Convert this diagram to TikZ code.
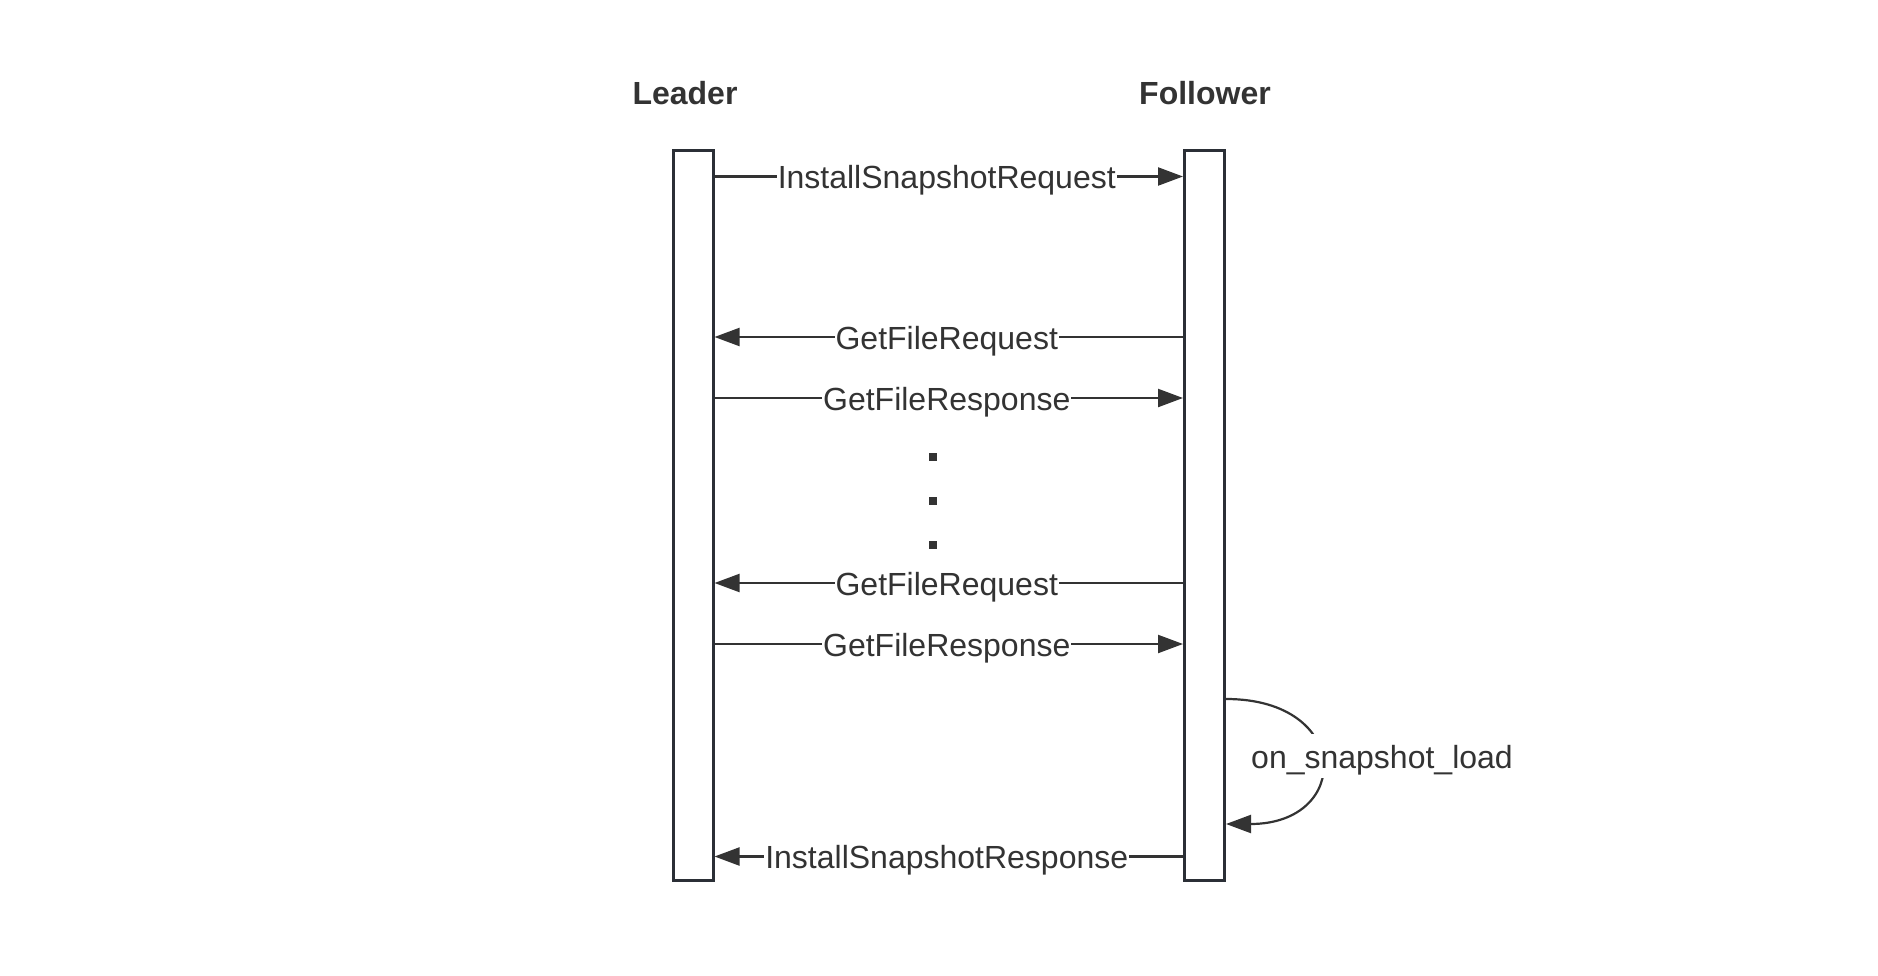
\documentclass[tikz,border=0pt]{standalone}
\usepackage{fontspec}
\setmainfont{Liberation Sans}
\usetikzlibrary{arrows.meta}
\definecolor{ink}{HTML}{333333}
\definecolor{boxline}{HTML}{2B2F36}
\tikzset{
  lifebox/.style={draw=boxline, line width=3pt, fill=white, minimum width=40pt, minimum height=729pt, inner sep=0pt},
  actor/.style={font=\fontsize{32}{38}\selectfont\bfseries, text=ink, anchor=base},
  msg/.style={draw=ink, line width=2.2pt, -{Triangle[length=25pt,width=18pt]}},
  txt/.style={fill=white, text=ink, font=\fontsize{32}{38}\selectfont, inner xsep=1pt, inner ysep=3pt, text depth=7pt},
  lbl/.style={txt, text height=31pt, xshift=-2pt},
  dotbox/.style={fill=ink, minimum size=8.5pt, inner sep=0pt}
}
\begin{document}
\begin{tikzpicture}[x=1pt,y=-1pt]
\useasboundingbox (0,0) rectangle (1878,976);
% actors
\node[actor] (tL) at (685,105) {Leader};
\node[actor] (tF) at (1205,105) {Follower};
% lifelines
\node[lifebox] (L) at (693,515.5) {};
\node[lifebox] (F) at (1204.5,515.5) {};
% row coordinates
\coordinate (r1) at (0,176.5);
\coordinate (r2) at (0,337);
\coordinate (r3) at (0,398);
\coordinate (r4) at (0,583);
\coordinate (r5) at (0,644);
\coordinate (r6) at (0,856.5);
\coordinate (s1) at (0,699);
\coordinate (s2) at (0,824);
% messages
\draw[msg] (L.east |- r1) -- node[lbl] (m1) {InstallSnapshotRequest} (F.west |- r1);
\draw[msg] (F.west |- r2) -- node[lbl] (m2) {GetFileRequest} (L.east |- r2);
\draw[msg] (L.east |- r3) -- node[lbl] (m3) {GetFileResponse} (F.west |- r3);
\draw[msg] (F.west |- r4) -- node[lbl] (m4) {GetFileRequest} (L.east |- r4);
\draw[msg] (L.east |- r5) -- node[lbl] (m5) {GetFileResponse} (F.west |- r5);
\draw[msg] (F.west |- r6) -- node[lbl] (m6) {InstallSnapshotResponse} (L.east |- r6);
% dots
\node[dotbox] (d1) at (933,457) {};
\node[dotbox] (d2) at (933,501) {};
\node[dotbox] (d3) at (933,545) {};
% self loop
\draw[msg] (F.east |- s1) .. controls (1352,699) and (1352,824) .. (F.east |- s2);
\node[txt, text height=31pt, anchor=base] (loop) at (1382,768) {on\_snapshot\_load};
\end{tikzpicture}
\end{document}
